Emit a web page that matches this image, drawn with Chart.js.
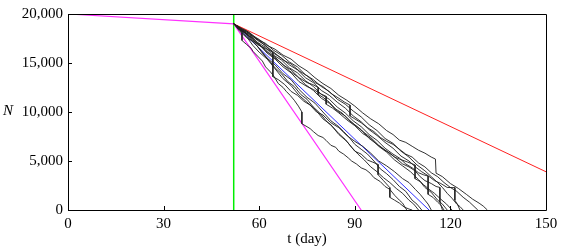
<!DOCTYPE html>
<html><head><meta charset="utf-8">
<script src="https://cdn.jsdelivr.net/npm/chart.js@4/dist/chart.umd.min.js"></script>
<style>html,body{margin:0;padding:0;background:#fff}#wrap{width:566px;height:248px}</style>
</head><body><div id="wrap"><canvas id="c"></canvas></div>
<script>
const xTicks = [0, 30, 60, 90, 120, 150];
const yTicks = [0, 5000, 10000, 15000, 20000];
const interventionDay = 52;
const magentaPath = [[0,20000],[52,19000],[92,0]];
const redPath = [[52,19000],[150,3900]];
const bluePath = [[52,19000],[113.3,0]];
const run1 = [[52,19000],[53.5,18700],[54.6,18100],[54.6,17300],[56,16900],[57.5,16500],[58,16200],[59.5,15700],[61,15200],[62,14600],[63.5,14100],[64.5,13700],[66,12900],[67.5,12500],[68.5,12100],[69.7,11700],[71,11200],[72.3,10600],[73.4,10000],[73.4,8800],[75,8500],[76,8300],[77,8000],[78.5,7600],[80,7400],[81,7100],[82.5,6600],[84,6400],[85,6000],[86.5,5700],[88,5300],[89,5000],[90.5,4700],[92,4300],[93.5,4100],[94.8,3760],[96,3300],[97,3100],[98,2900],[99.5,2400],[101,2100],[102.5,1500],[104,1000],[105,700],[106.3,0]];
const run2 = [[52,19000],[54,18300],[56,17700],[58,16800],[60,16100],[62.5,15400],[65,14400],[67.5,13400],[70,12700],[72.5,11700],[75,11000],[77.5,10300],[80,9300],[82.5,8700],[85,7700],[87.5,7000],[90,6000],[92,5700],[94,5100],[95.5,4900],[97.3,4650],[97.3,3600],[99,3000],[101,2280],[101,1290],[102.5,1000],[104,700],[105.5,300],[107,100],[108,0]];
const run3 = [[52,19000],[54,18200],[56,17600],[58,17200],[60,16500],[62.5,15500],[65,14800],[67.5,13900],[70,13300],[72.5,12300],[75,11500],[77.5,10900],[80,10000],[82.5,9100],[85,8500],[86.5,8000],[88,7500],[90,6700],[92,6200],[94,5700],[96,5000],[98,4200],[100,3700],[102,3100],[104,2400],[106,1900],[108,1000],[109.5,600],[111,0]];
const run4 = [[52,19000],[54,18600],[56,18000],[58,17300],[60,16800],[62,16500],[64.3,16100],[64.3,13600],[66,13300],[68,12800],[70,12100],[72,11700],[74,11100],[76,10700],[78,10000],[80,9700],[82.5,8900],[85,8400],[87.5,7600],[90,7000],[92.5,6500],[95,5800],[97.5,5000],[100,4500],[102.5,3900],[105,3200],[107,2800],[109,2100],[110.5,1600],[112,1000],[113,600],[114,0]];
const run5 = [[52,19000],[54,18400],[56,18000],[58,17300],[60,16900],[62.5,16100],[65,15600],[67.5,14800],[70,14300],[72.5,13500],[75,13000],[76.8,12800],[78.5,12500],[78.5,11800],[80,11500],[82,11000],[84,10300],[86,9900],[88,9200],[90,8700],[92.5,8000],[95,7400],[97.5,6600],[100,6000],[102.5,5400],[105,4700],[107,4400],[108.9,4000],[110.5,3400],[112,3000],[114,2700],[115.5,2400],[116.7,2300],[116.7,800],[117.5,0]];
const run6 = [[52,19000],[54,18400],[56,17900],[58,17500],[60,16900],[62.5,16000],[65,15400],[67.5,14600],[70,14000],[72.5,13100],[75,12600],[77,12300],[79,11900],[81,11600],[81,10800],[83,10400],[85,9900],[87.5,9200],[90,8600],[92.5,7800],[95,7300],[97.5,6500],[100,5900],[102.5,5100],[105,4500],[107.5,3900],[110,3100],[111.5,2600],[113,2200],[113,1600],[114.5,1300],[116,800],[117,500],[118,0]];
const run7 = [[52,19000],[54.5,18300],[57,17800],[59.5,16900],[62,16400],[64.5,15600],[67,15000],[69.5,14200],[72,13600],[74.5,12800],[77,12200],[79.5,11400],[82,10900],[84.5,10100],[87,9600],[89.5,8800],[92,8200],[94.5,7300],[97,6700],[99,6200],[101,5800],[102.5,5400],[104,5200],[106.5,4900],[108.9,4600],[108.9,3200],[110.5,2900],[112,2300],[114,1800],[116,1000],[117.5,600],[119,0]];
const run8 = [[52,19000],[54.5,18300],[57,17900],[59.5,17100],[62,16600],[64.5,15800],[67,15300],[69.5,14500],[72,14000],[74.5,13200],[77,12600],[79.5,11800],[82,11300],[84.5,10500],[87,9900],[89.5,9100],[92,8500],[94.5,7700],[97,7100],[99.5,6300],[102,5700],[104,5300],[106,4700],[108,4300],[110,3800],[111.5,3600],[113,3460],[113,2180],[115,1700],[117,1100],[118.8,600],[120.5,0]];
const run9 = [[52,19000],[54.5,18400],[57,18000],[59.5,17300],[62,16800],[64.5,16000],[67,15500],[69.5,14800],[72,14300],[74.5,13500],[77,13000],[79.5,12200],[82,11700],[84.5,11000],[87,10400],[89.5,9600],[92,9000],[94.5,8200],[97,7600],[99.5,6900],[102,6300],[104.5,5500],[107,5000],[109,4400],[111,3900],[113,3500],[115,3000],[117,2700],[119,2300],[121.4,2280],[121.4,990],[122.2,600],[123,0]];
const run10 = [[52,19000],[54.5,18500],[57,18100],[59.5,17400],[62,17000],[64.5,16300],[67,15800],[69.5,15100],[72,14600],[74.5,13800],[77,13300],[79.5,12600],[82,12100],[84.5,11300],[87,10800],[89.5,10100],[92,9500],[94.5,8700],[97,8100],[99.5,7300],[102,6800],[104.5,6000],[107,5400],[109.5,4600],[112,4000],[114,3400],[116,2800],[117.5,2300],[119,1700],[120.5,1200],[122,600],[123,350],[124,0]];
const run11 = [[52,19000],[54,18500],[56,18200],[58,17700],[60,17300],[62.5,16600],[65,16000],[67.5,15300],[70,14900],[72.5,14200],[75,13700],[77.5,13000],[80,12600],[82.5,11900],[85,11400],[86.8,11000],[88.5,10700],[88.5,9600],[90,9300],[92,8900],[94,8400],[96,8000],[98,7400],[100,7000],[102,6700],[104,6200],[106,5700],[108,5400],[110,4800],[112,4400],[114,3800],[116,3400],[118,2800],[120,2300],[122,1900],[124,1300],[126,800],[128.6,0]];
const run12 = [[52,19000],[54,18600],[56,18300],[58,17800],[60,17400],[62.5,16800],[65,16400],[67.5,15800],[70,15400],[72.5,14700],[75,14200],[77.5,13500],[80,12900],[82.5,12400],[85,11700],[87.5,11200],[90,10600],[92.5,9900],[95,9300],[97.5,8800],[100,8100],[102,7700],[104,7130],[106,6900],[108,6500],[110,6100],[112,5800],[114,5400],[115.3,5200],[115.5,3760],[117.5,3400],[120,2700],[122.5,2200],[125,1600],[127,1100],[129,700],[130.3,400],[131.6,0]];
const run13 = [[52,19000],[53.5,18600],[55,18300],[57,17500],[59,16900],[61,16000],[63,15300],[65,14500],[67,13900],[69,13100],[71,12600],[73,11800],[75,11300],[77,10500],[79,9900],[81,9100],[83,8500],[85,7800],[87,7200],[89,6400],[91,5700],[93,5100],[95,4400],[97,3900],[99,3300],[101,2800],[103,2200],[105,1700],[107,1000],[108.5,600],[110,0]];
const runs = [run1,run2,run3,run4,run5,run6,run7,run8,run9,run10,run11,run12,run13];

const FONT = '"Liberation Serif", serif';
const toXY = p => p.map(([x,y]) => ({x, y}));
const lineDs = (pts, color, w) => ({data: toXY(pts), borderColor: color, borderWidth: w, showLine: true, pointRadius: 0, fill: false, tension: 0});

const datasets = [];
runs.forEach(r => datasets.push(lineDs(r, 'rgba(30,30,30,0.9)', 1)));
datasets.push(lineDs(bluePath, '#3030ff', 1));
datasets.push(lineDs(redPath, '#ff2020', 1));
datasets.push(lineDs(magentaPath, '#ff30ff', 1.2));
datasets.push(lineDs([[interventionDay, 0],[interventionDay, 20000]], '#00ee00', 1.5));

const framePlugin = {
  id: 'frame',
  afterDatasetsDraw(chart) {
    const {ctx, chartArea: a, scales: {x, y}} = chart;
    ctx.save();
    ctx.strokeStyle = '#000';
    ctx.lineWidth = 1;
    ctx.beginPath();
    ctx.rect(Math.round(a.left)+0.5, Math.round(a.top)+0.5, Math.round(a.right-a.left), Math.round(a.bottom-a.top));
    ctx.stroke();
    ctx.beginPath();
    xTicks.forEach(v => { const px = Math.round(x.getPixelForValue(v))+0.5; ctx.moveTo(px, a.bottom); ctx.lineTo(px, a.bottom-4); });
    yTicks.forEach(v => { const py = Math.round(y.getPixelForValue(v))+0.5; ctx.moveTo(a.left, py); ctx.lineTo(a.left+4, py); });
    ctx.stroke();
    ctx.fillStyle = '#000';
    ctx.font = 'italic 15px ' + FONT;
    ctx.textAlign = 'center';
    ctx.textBaseline = 'middle';
    ctx.fillText('N', 8, y.getPixelForValue(10000) - 1);
    ctx.restore();
  }
};

Chart.defaults.font.family = FONT;
new Chart(document.getElementById('c'), {
  type: 'scatter',
  data: {datasets},
  options: {
    responsive: true, maintainAspectRatio: false, animation: false,
    layout: {padding: {top: 8, right: 20, left: 0, bottom: 0}},
    plugins: {legend: {display: false}, tooltip: {enabled: false}},
    scales: {
      x: {
        type: 'linear', min: 0, max: 150,
        afterBuildTicks: s => { s.ticks = xTicks.map(v => ({value: v})); },
        afterFit: s => { s.height = 38; },
        grid: {display: false, drawTicks: false},
        border: {display: false},
        ticks: {color: '#000', font: {family: FONT, size: 15}, padding: 5, maxRotation: 0},
        title: {display: true, text: 't (day)', color: '#000', font: {family: FONT, size: 15}, padding: {top: 0, bottom: 0}}
      },
      y: {
        type: 'linear', min: 0, max: 20000,
        afterBuildTicks: s => { s.ticks = yTicks.map(v => ({value: v})); },
        afterFit: s => { s.width = 68; },
        grid: {display: false, drawTicks: false},
        border: {display: false},
        ticks: {color: '#000', font: {family: FONT, size: 15}, padding: 5,
          callback: v => v.toLocaleString('en-US')}
      }
    }
  },
  plugins: [framePlugin]
});
</script>
</body></html>
